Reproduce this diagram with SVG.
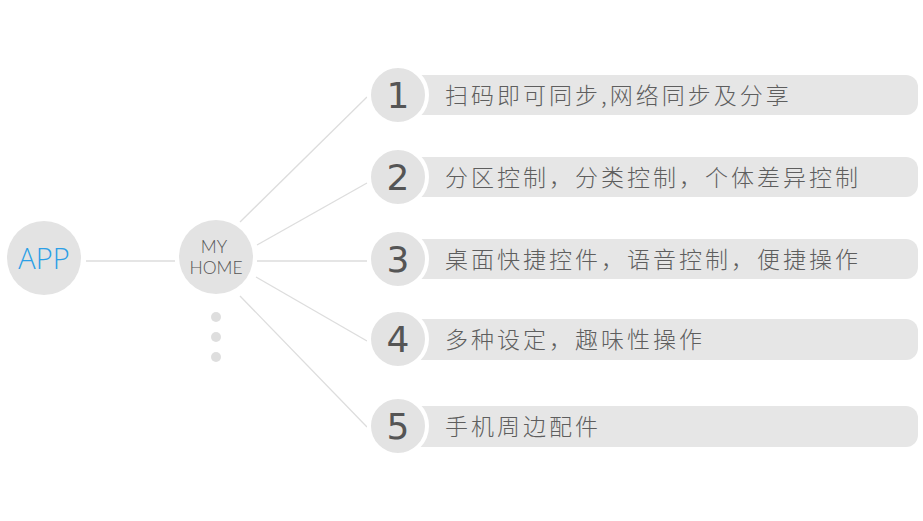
<svg xmlns="http://www.w3.org/2000/svg" width="923" height="521" viewBox="0 0 923 521">
<style>
.bg{fill:#ffffff}
.hub{fill:#e3e3e3}
.ln{stroke:#dddddd;stroke-width:1.3;fill:none}
.bar{fill:#e6e6e6}
.num{fill:#e3e3e3;stroke:#ffffff;stroke-width:4}
.nt{font-family:"DejaVu Sans","Liberation Sans",sans-serif;font-size:36px;fill:#555555;text-anchor:middle}
.tx{font-family:"Noto Sans CJK SC","Noto Sans",sans-serif;font-size:23px;font-weight:300;fill:#5e5e5e;letter-spacing:3px}
.dot{fill:#dedede}
</style>
<rect class="bg" x="0" y="0" width="923" height="521"/>
<g id="connectors">
<line class="ln" x1="86" y1="261" x2="175" y2="261"/>
<line class="ln" x1="240" y1="222" x2="367" y2="97"/>
<line class="ln" x1="257" y1="245" x2="367" y2="183"/>
<line class="ln" x1="257" y1="261" x2="367" y2="261"/>
<line class="ln" x1="256" y1="277" x2="367" y2="341"/>
<line class="ln" x1="240" y1="296" x2="367" y2="427"/>
</g>
<g id="app">
<circle class="hub" cx="44" cy="258" r="37"/>
<text x="44" y="269" font-family="Open Sans, Liberation Sans, sans-serif" font-size="29" font-weight="300" fill="#2b9fe6" text-anchor="middle">APP</text>
</g>
<g id="myhome">
<circle class="hub" cx="216" cy="257" r="37"/>
<text font-family="Lato, Liberation Sans, sans-serif" font-size="17.5" font-weight="300" fill="#555555" text-anchor="middle"><tspan x="214" y="253">MY</tspan><tspan x="216" y="274">HOME</tspan></text>
</g>
<g id="more">
<circle class="dot" cx="216" cy="317" r="5"/>
<circle class="dot" cx="216" cy="337" r="5"/>
<circle class="dot" cx="216" cy="357" r="5"/>
</g>
<g id="item1">
<path class="bar" d="M420 75 H906 A12 12 0 0 1 918 87 V103 A12 12 0 0 1 906 115 H420 Z"/>
<circle class="num" cx="398" cy="95" r="29"/>
<text class="nt" x="398" y="108">1</text>
<text class="tx" x="445" y="104">扫码即可同步,网络同步及分享</text>
</g>
<g id="item2">
<path class="bar" d="M420 157 H906 A12 12 0 0 1 918 169 V185 A12 12 0 0 1 906 197 H420 Z"/>
<circle class="num" cx="398" cy="177" r="29"/>
<text class="nt" x="398" y="190">2</text>
<text class="tx" x="445" y="186">分区控制，分类控制，个体差异控制</text>
</g>
<g id="item3">
<path class="bar" d="M420 239 H906 A12 12 0 0 1 918 251 V267 A12 12 0 0 1 906 279 H420 Z"/>
<circle class="num" cx="398" cy="259" r="29"/>
<text class="nt" x="398" y="272">3</text>
<text class="tx" x="445" y="268">桌面快捷控件，语音控制，便捷操作</text>
</g>
<g id="item4">
<path class="bar" d="M420 319 H906 A12 12 0 0 1 918 331 V348 A12 12 0 0 1 906 360 H420 Z"/>
<circle class="num" cx="398" cy="339" r="29"/>
<text class="nt" x="398" y="352">4</text>
<text class="tx" x="445" y="348">多种设定，趣味性操作</text>
</g>
<g id="item5">
<path class="bar" d="M420 406 H906 A12 12 0 0 1 918 418 V435 A12 12 0 0 1 906 447 H420 Z"/>
<circle class="num" cx="398" cy="426" r="29"/>
<text class="nt" x="398" y="439">5</text>
<text class="tx" x="445" y="435">手机周边配件</text>
</g>
</svg>
